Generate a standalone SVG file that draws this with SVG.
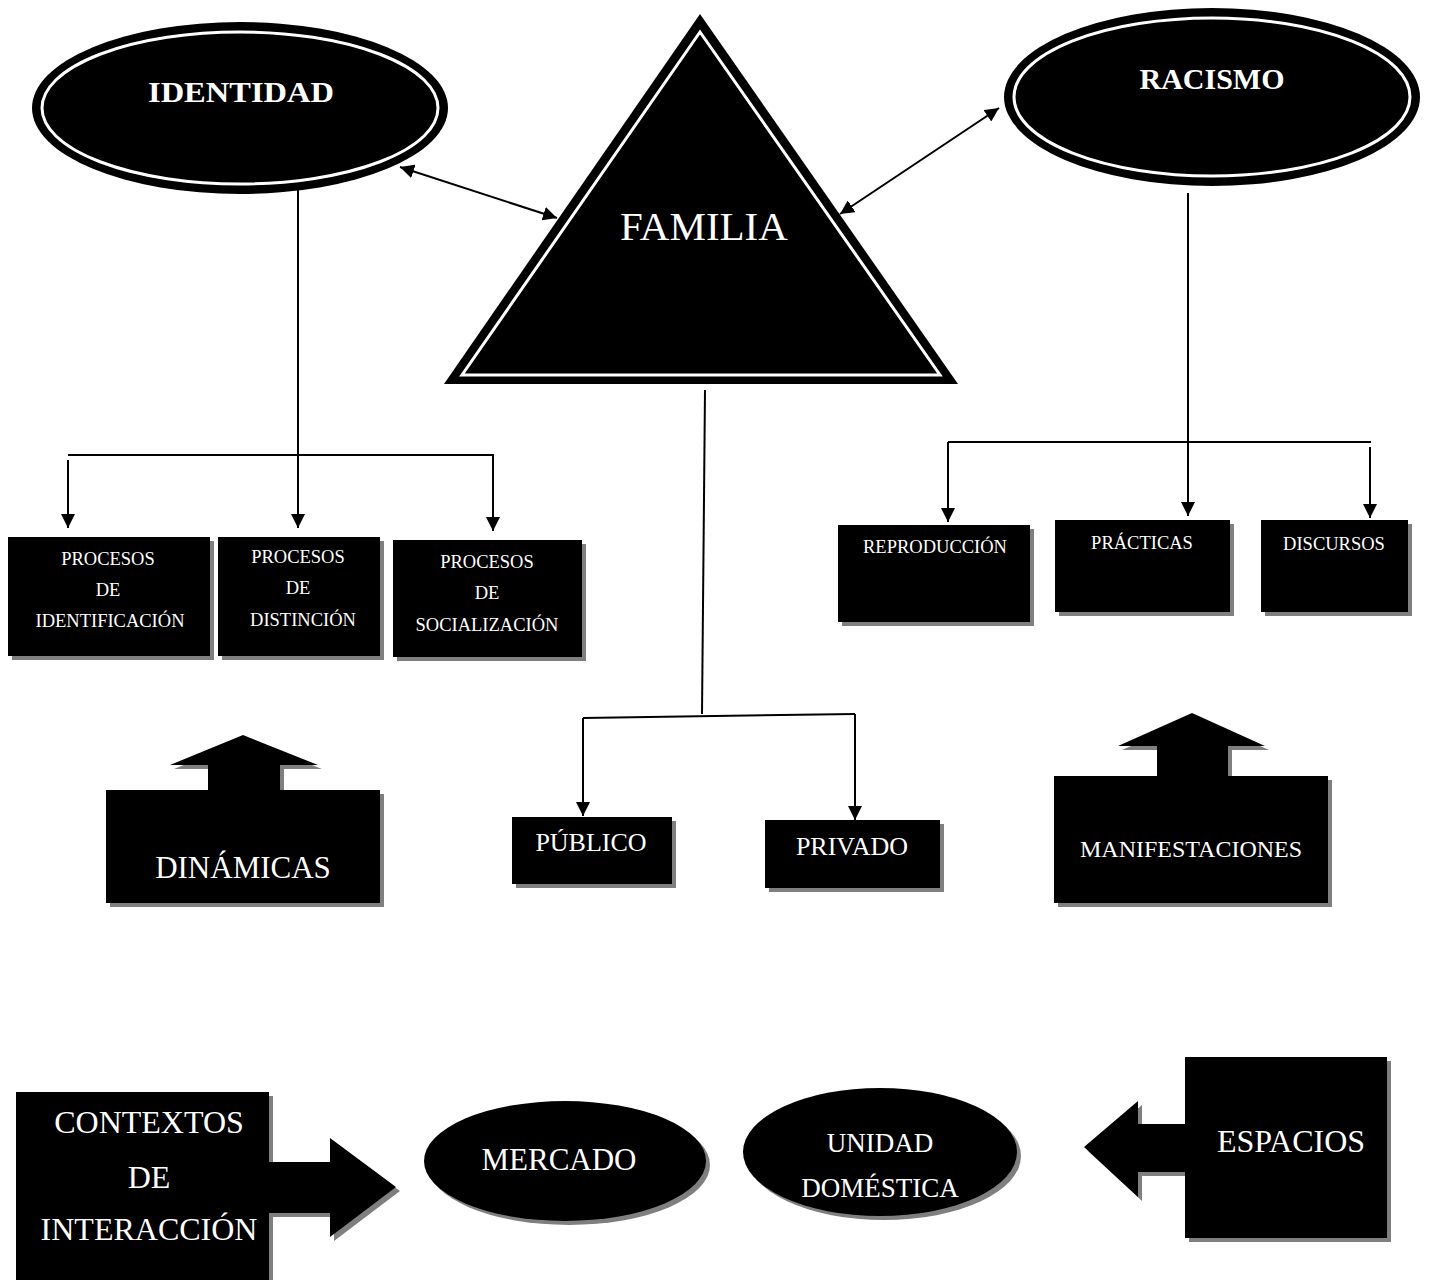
<svg xmlns="http://www.w3.org/2000/svg" width="1429" height="1280" viewBox="0 0 1429 1280">
  <defs>
    <marker id="arrow" viewBox="0 0 10 10" refX="10" refY="5" markerWidth="14" markerHeight="14" markerUnits="userSpaceOnUse" orient="auto-start-reverse">
      <path d="M0,0 L10,5 L0,10 z" fill="#000"/>
    </marker>
    <style>
      .conn { stroke: #000; stroke-width: 2; fill: none; }
      .box { fill: #000; }
      .shadow { fill: #7f7f7f; }
      .ring { fill: none; stroke: #fff; stroke-width: 3; }
      text { font-family: "Liberation Serif", "Times New Roman", serif; fill: #fff; text-anchor: middle; }
      .small { font-size: 18.5px; }
      .mid { font-size: 26px; }
      .big { font-size: 32px; }
      .title { font-size: 30px; font-weight: bold; }
    </style>
  </defs>

  <rect width="1429" height="1280" fill="#fff"/>

  <!-- connectors -->
  <g id="connectors">
    <line class="conn" x1="400" y1="167" x2="557" y2="218" marker-start="url(#arrow)" marker-end="url(#arrow)"/>
    <line class="conn" x1="999" y1="108" x2="840" y2="214" marker-start="url(#arrow)" marker-end="url(#arrow)"/>
    <!-- IDENTIDAD branch -->
    <line class="conn" x1="298" y1="183" x2="298" y2="528" marker-end="url(#arrow)"/>
    <line class="conn" x1="68" y1="455" x2="494" y2="455"/>
    <line class="conn" x1="68" y1="460" x2="68" y2="528" marker-end="url(#arrow)"/>
    <line class="conn" x1="493" y1="455" x2="493" y2="531" marker-end="url(#arrow)"/>
    <!-- RACISMO branch -->
    <line class="conn" x1="1188" y1="193" x2="1188" y2="516" marker-end="url(#arrow)"/>
    <line class="conn" x1="948" y1="442" x2="1371" y2="442"/>
    <line class="conn" x1="948" y1="442" x2="948" y2="522" marker-end="url(#arrow)"/>
    <line class="conn" x1="1370" y1="447" x2="1370" y2="518" marker-end="url(#arrow)"/>
    <!-- FAMILIA branch -->
    <line class="conn" x1="705" y1="390" x2="702" y2="714"/>
    <line class="conn" x1="583" y1="718" x2="855" y2="714"/>
    <line class="conn" x1="583" y1="718" x2="583" y2="816" marker-end="url(#arrow)"/>
    <line class="conn" x1="855" y1="714" x2="855" y2="820" marker-end="url(#arrow)"/>
  </g>

  <!-- IDENTIDAD -->
  <g id="identidad">
    <ellipse cx="240" cy="108" rx="208" ry="86" fill="#000"/>
    <ellipse class="ring" cx="240" cy="108" rx="198" ry="76"/>
    <text class="title" x="241" y="102" textLength="186" lengthAdjust="spacingAndGlyphs">IDENTIDAD</text>
  </g>

  <!-- RACISMO -->
  <g id="racismo">
    <ellipse cx="1212" cy="97" rx="208" ry="89" fill="#000"/>
    <ellipse class="ring" cx="1212" cy="97" rx="198" ry="79"/>
    <text class="title" x="1212" y="89">RACISMO</text>
  </g>

  <!-- FAMILIA -->
  <g id="familia">
    <polygon points="700,14 444,384 958,384" fill="#000"/>
    <polygon points="700,32 462,375 940,375" fill="none" stroke="#fff" stroke-width="3"/>
    <text x="704" y="240" style="font-size:41px">FAMILIA</text>
  </g>

  <!-- identity processes -->
  <g id="proc-identificacion">
    <rect class="shadow" x="12" y="541" width="202" height="119"/>
    <rect class="box" x="8" y="537" width="202" height="119"/>
    <text class="small" x="108" y="565">PROCESOS</text>
    <text class="small" x="108" y="596">DE</text>
    <text class="small" x="110" y="627">IDENTIFICACIÓN</text>
  </g>
  <g id="proc-distincion">
    <rect class="shadow" x="222" y="541" width="162" height="119"/>
    <rect class="box" x="218" y="537" width="162" height="119"/>
    <text class="small" x="298" y="563">PROCESOS</text>
    <text class="small" x="298" y="594">DE</text>
    <text class="small" x="303" y="626">DISTINCIÓN</text>
  </g>
  <g id="proc-socializacion">
    <rect class="shadow" x="397" y="544" width="189" height="117"/>
    <rect class="box" x="393" y="540" width="189" height="117"/>
    <text class="small" x="487" y="568">PROCESOS</text>
    <text class="small" x="487" y="599">DE</text>
    <text class="small" x="487" y="631">SOCIALIZACIÓN</text>
  </g>

  <!-- racism forms -->
  <g id="reproduccion">
    <rect class="shadow" x="842" y="529" width="192" height="97"/>
    <rect class="box" x="838" y="525" width="192" height="97"/>
    <text class="small" x="935" y="553">REPRODUCCIÓN</text>
  </g>
  <g id="practicas">
    <rect class="shadow" x="1059" y="524" width="175" height="92"/>
    <rect class="box" x="1055" y="520" width="175" height="92"/>
    <text class="small" x="1142" y="549">PRÁCTICAS</text>
  </g>
  <g id="discursos">
    <rect class="shadow" x="1265" y="524" width="147" height="92"/>
    <rect class="box" x="1261" y="520" width="147" height="92"/>
    <text class="small" x="1334" y="550">DISCURSOS</text>
  </g>

  <!-- public / private -->
  <g id="publico">
    <rect class="shadow" x="516" y="821" width="160" height="67"/>
    <rect class="box" x="512" y="817" width="160" height="67"/>
    <text class="mid" x="591" y="851">PÚBLICO</text>
  </g>
  <g id="privado">
    <rect class="shadow" x="769" y="824" width="175" height="68"/>
    <rect class="box" x="765" y="820" width="175" height="68"/>
    <text class="mid" x="852" y="855">PRIVADO</text>
  </g>

  <!-- DINÁMICAS (up arrow callout) -->
  <g id="dinamicas">
    <path class="shadow" transform="translate(4,4)" d="M106,790 H208 V765 H170 L243,735 L318,765 H280 V790 H380 V903 H106 Z"/>
    <path class="box" d="M106,790 H208 V765 H170 L243,735 L318,765 H280 V790 H380 V903 H106 Z"/>
    <text x="243" y="878" style="font-size:31px">DINÁMICAS</text>
  </g>

  <!-- MANIFESTACIONES (up arrow callout) -->
  <g id="manifestaciones">
    <path class="shadow" transform="translate(4,4)" d="M1054,776 H1157 V746 H1118 L1192,713 L1265,746 H1228 V776 H1328 V903 H1054 Z"/>
    <path class="box" d="M1054,776 H1157 V746 H1118 L1192,713 L1265,746 H1228 V776 H1328 V903 H1054 Z"/>
    <text x="1191" y="857" style="font-size:24px">MANIFESTACIONES</text>
  </g>

  <!-- CONTEXTOS DE INTERACCIÓN (right arrow callout) -->
  <g id="contextos">
    <path class="shadow" transform="translate(4,4)" d="M16,1092 H269 V1162 H330 V1138 L396,1187 L330,1237 V1213 H269 V1290 H16 Z"/>
    <path class="box" d="M16,1092 H269 V1162 H330 V1138 L396,1187 L330,1237 V1213 H269 V1290 H16 Z"/>
    <text class="big" x="149" y="1133">CONTEXTOS</text>
    <text class="big" x="149" y="1188">DE</text>
    <text class="big" x="149" y="1240">INTERACCIÓN</text>
  </g>

  <!-- MERCADO -->
  <g id="mercado">
    <ellipse class="shadow" cx="569" cy="1165" rx="141" ry="60"/>
    <ellipse class="box" cx="565" cy="1161" rx="141" ry="60"/>
    <text x="559" y="1170" style="font-size:31px">MERCADO</text>
  </g>

  <!-- UNIDAD DOMÉSTICA -->
  <g id="unidad-domestica">
    <ellipse class="shadow" cx="884" cy="1156" rx="137" ry="64"/>
    <ellipse class="box" cx="880" cy="1152" rx="137" ry="64"/>
    <text x="880" y="1152" style="font-size:27px">UNIDAD</text>
    <text x="880" y="1197" style="font-size:27px">DOMÉSTICA</text>
  </g>

  <!-- ESPACIOS (left arrow callout) -->
  <g id="espacios">
    <path class="shadow" transform="translate(4,4)" d="M1185,1057 H1387 V1238 H1185 V1172 H1138 V1197 L1084,1147 L1138,1101 V1124 H1185 Z"/>
    <path class="box" d="M1185,1057 H1387 V1238 H1185 V1172 H1138 V1197 L1084,1147 L1138,1101 V1124 H1185 Z"/>
    <text x="1291" y="1152" style="font-size:32px">ESPACIOS</text>
  </g>
</svg>
